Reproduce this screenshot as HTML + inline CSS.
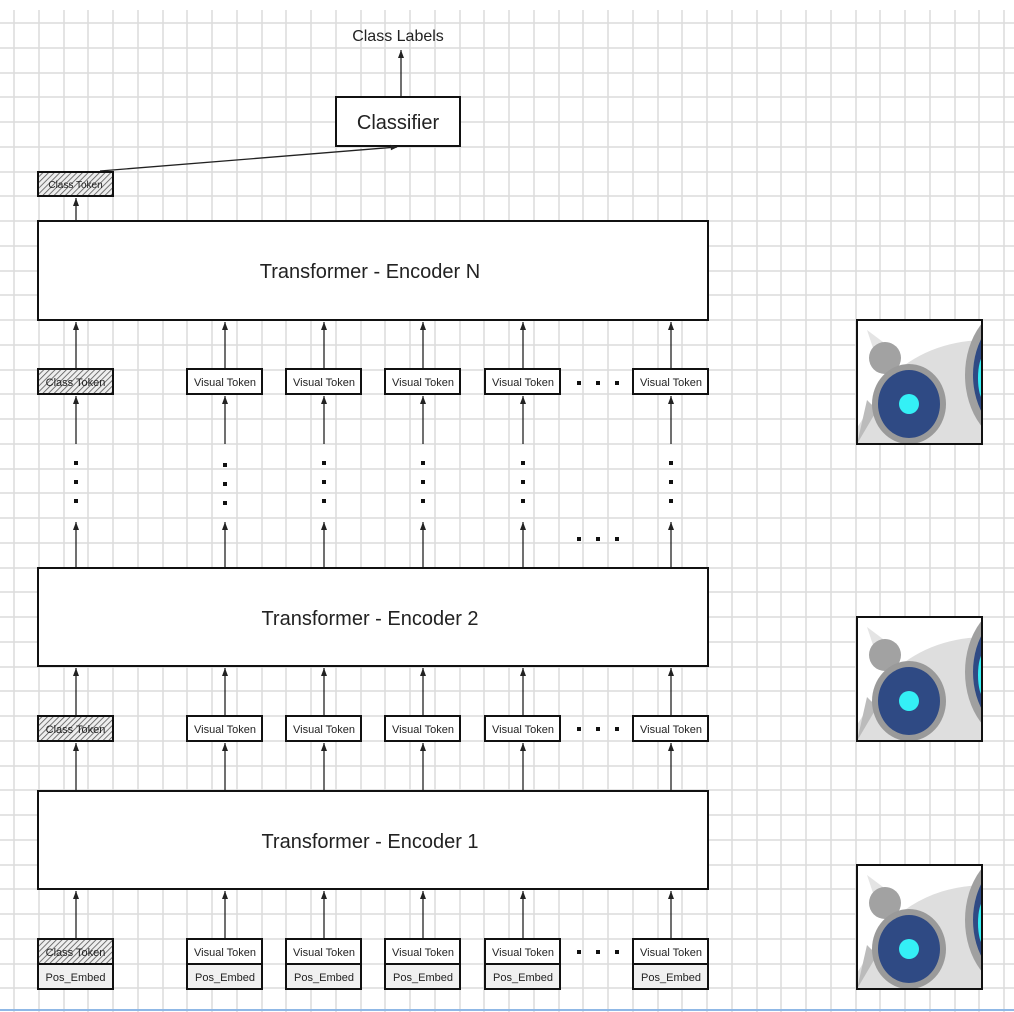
<!DOCTYPE html>
<html><head><meta charset="utf-8"><style>
html,body{margin:0;padding:0;background:#fff}
svg{display:block}
text{font-family:"Liberation Sans","DejaVu Sans",sans-serif;fill:#222}
</style></head><body>
<svg width="1014" height="1012" viewBox="0 0 1014 1012" xmlns="http://www.w3.org/2000/svg">
<defs>
<pattern id="hatch" width="4" height="4" patternUnits="userSpaceOnUse" patternTransform="rotate(45)">
<rect width="4" height="4" fill="#eee"/><line x1="0" y1="0" x2="0" y2="4" stroke="#555" stroke-width="1.6"/>
</pattern>
<marker id="ah" viewBox="0 0 8 8" markerWidth="8" markerHeight="8" refX="8" refY="4" orient="auto" markerUnits="userSpaceOnUse">
<path d="M0 1L8 4L0 7Z" fill="#222"/>
</marker>
<marker id="ar" viewBox="0 0 10 10" markerWidth="9" markerHeight="7" refX="9" refY="5" orient="auto" markerUnits="userSpaceOnUse">
<path d="M0 1L10 5L0 9Z" fill="#222"/>
</marker>
<clipPath id="tc"><rect x="0" y="0" width="125" height="124"/></clipPath>
<g id="robot">
<g clip-path="url(#tc)">
<rect width="125" height="124" fill="#fff"/>
<polygon points="10,10 30,25 20,40" fill="#e4e4e4"/>
<path d="M-10 124 L30 60 Q70 20 130 20 L130 124 Z" fill="#dedede"/>
<circle cx="28" cy="38" r="16" fill="#a2a2a2"/>
<path d="M0 124 L20 90 L10 80 Z" fill="#bbb"/>
<ellipse cx="52" cy="84" rx="37" ry="40" fill="#9a9a9a"/>
<ellipse cx="52" cy="84" rx="31" ry="34" fill="#2f4a84"/>
<circle cx="52" cy="84" r="10" fill="#34f0f6"/>
<ellipse cx="160" cy="55" rx="52" ry="70" fill="#a0a0a0"/>
<ellipse cx="160" cy="55" rx="44" ry="62" fill="#2f4a84"/>
<ellipse cx="127" cy="58" rx="6" ry="22" fill="#34f0f6"/>
</g>
<rect x="0" y="0" width="125" height="124" fill="none" stroke="#111" stroke-width="2"/>
</g>
</defs>
<rect width="1014" height="1012" fill="#fff"/>
<path stroke="#dcdcdc" stroke-width="1.5" fill="none" d="
M14 10V1012M39 10V1012M64 10V1012M88 10V1012M113 10V1012M138 10V1012M163 10V1012M187 10V1012M212 10V1012M237 10V1012M262 10V1012M286 10V1012M311 10V1012M336 10V1012M361 10V1012M385 10V1012M410 10V1012M435 10V1012M460 10V1012M484 10V1012M509 10V1012M534 10V1012M559 10V1012M583 10V1012M608 10V1012M633 10V1012M658 10V1012M682 10V1012M707 10V1012M732 10V1012M757 10V1012M781 10V1012M806 10V1012M831 10V1012M856 10V1012M880 10V1012M905 10V1012M930 10V1012M955 10V1012M979 10V1012M1004 10V1012
M0 23H1014M0 48H1014M0 73H1014M0 97H1014M0 122H1014M0 147H1014M0 172H1014M0 196H1014M0 221H1014M0 246H1014M0 271H1014M0 295H1014M0 320H1014M0 345H1014M0 370H1014M0 394H1014M0 419H1014M0 444H1014M0 469H1014M0 493H1014M0 518H1014M0 543H1014M0 568H1014M0 592H1014M0 617H1014M0 642H1014M0 667H1014M0 691H1014M0 716H1014M0 741H1014M0 766H1014M0 790H1014M0 815H1014M0 840H1014M0 865H1014M0 889H1014M0 914H1014M0 939H1014M0 964H1014M0 988H1014"/>
<line x1="0" y1="1010" x2="1014" y2="1010" stroke="#8fb8e6" stroke-width="2"/>

<text x="398" y="41" font-size="16" text-anchor="middle">Class Labels</text>
<line x1="401" y1="97" x2="401" y2="50" stroke="#222" stroke-width="1.3" marker-end="url(#ah)"/>
<rect x="336" y="97" width="124" height="49" fill="#fff" stroke="#111" stroke-width="2"/>
<text x="398" y="129" font-size="20" text-anchor="middle">Classifier</text>
<line x1="100" y1="171" x2="397" y2="147" stroke="#222" stroke-width="1.3" marker-end="url(#ar)"/>
<rect x="38" y="172" width="75" height="24" fill="url(#hatch)" stroke="#111" stroke-width="2"/>
<text x="75.5" y="188" font-size="10" text-anchor="middle" fill="#333">Class Token</text>
<line x1="76" y1="221" x2="76" y2="198" stroke="#222" stroke-width="1.3" marker-end="url(#ah)"/>

<rect x="38" y="221" width="670" height="99" fill="#fff" stroke="#111" stroke-width="2"/>
<text x="370" y="278" font-size="20" text-anchor="middle">Transformer - Encoder N</text>
<rect x="38" y="568" width="670" height="98" fill="#fff" stroke="#111" stroke-width="2"/>
<text x="370" y="625" font-size="20" text-anchor="middle">Transformer - Encoder 2</text>
<rect x="38" y="791" width="670" height="98" fill="#fff" stroke="#111" stroke-width="2"/>
<text x="370" y="848" font-size="20" text-anchor="middle">Transformer - Encoder 1</text>

<g stroke="#222" stroke-width="1.3" marker-end="url(#ah)">
<line x1="76" y1="369" x2="76" y2="322"/><line x1="225" y1="369" x2="225" y2="322"/><line x1="324" y1="369" x2="324" y2="322"/><line x1="423" y1="369" x2="423" y2="322"/><line x1="523" y1="369" x2="523" y2="322"/><line x1="671" y1="369" x2="671" y2="322"/>
<line x1="76" y1="444" x2="76" y2="396"/><line x1="225" y1="444" x2="225" y2="396"/><line x1="324" y1="444" x2="324" y2="396"/><line x1="423" y1="444" x2="423" y2="396"/><line x1="523" y1="444" x2="523" y2="396"/><line x1="671" y1="444" x2="671" y2="396"/>
<line x1="76" y1="567" x2="76" y2="522"/><line x1="225" y1="567" x2="225" y2="522"/><line x1="324" y1="567" x2="324" y2="522"/><line x1="423" y1="567" x2="423" y2="522"/><line x1="523" y1="567" x2="523" y2="522"/><line x1="671" y1="567" x2="671" y2="522"/>
<line x1="76" y1="716" x2="76" y2="668"/><line x1="225" y1="716" x2="225" y2="668"/><line x1="324" y1="716" x2="324" y2="668"/><line x1="423" y1="716" x2="423" y2="668"/><line x1="523" y1="716" x2="523" y2="668"/><line x1="671" y1="716" x2="671" y2="668"/>
<line x1="76" y1="790" x2="76" y2="743"/><line x1="225" y1="790" x2="225" y2="743"/><line x1="324" y1="790" x2="324" y2="743"/><line x1="423" y1="790" x2="423" y2="743"/><line x1="523" y1="790" x2="523" y2="743"/><line x1="671" y1="790" x2="671" y2="743"/>
<line x1="76" y1="939" x2="76" y2="891"/><line x1="225" y1="939" x2="225" y2="891"/><line x1="324" y1="939" x2="324" y2="891"/><line x1="423" y1="939" x2="423" y2="891"/><line x1="523" y1="939" x2="523" y2="891"/><line x1="671" y1="939" x2="671" y2="891"/>
</g>

<g fill="#111">
<rect x="74" y="461" width="4" height="4"/><rect x="74" y="480" width="4" height="4"/><rect x="74" y="499" width="4" height="4"/>
<rect x="223" y="463" width="4" height="4"/><rect x="223" y="482" width="4" height="4"/><rect x="223" y="501" width="4" height="4"/>
<rect x="322" y="461" width="4" height="4"/><rect x="322" y="480" width="4" height="4"/><rect x="322" y="499" width="4" height="4"/>
<rect x="421" y="461" width="4" height="4"/><rect x="421" y="480" width="4" height="4"/><rect x="421" y="499" width="4" height="4"/>
<rect x="521" y="461" width="4" height="4"/><rect x="521" y="480" width="4" height="4"/><rect x="521" y="499" width="4" height="4"/>
<rect x="669" y="461" width="4" height="4"/><rect x="669" y="480" width="4" height="4"/><rect x="669" y="499" width="4" height="4"/>
<rect x="577" y="537" width="4" height="4"/><rect x="596" y="537" width="4" height="4"/><rect x="615" y="537" width="4" height="4"/>
<rect x="577" y="381" width="4" height="4"/><rect x="596" y="381" width="4" height="4"/><rect x="615" y="381" width="4" height="4"/>
<rect x="577" y="727" width="4" height="4"/><rect x="596" y="727" width="4" height="4"/><rect x="615" y="727" width="4" height="4"/>
<rect x="577" y="950" width="4" height="4"/><rect x="596" y="950" width="4" height="4"/><rect x="615" y="950" width="4" height="4"/>
</g>

<g stroke="#111" stroke-width="2">
<rect x="38" y="369" width="75" height="25" fill="url(#hatch)"/>
<rect x="187" y="369" width="75" height="25" fill="#fff"/><rect x="286" y="369" width="75" height="25" fill="#fff"/><rect x="385" y="369" width="75" height="25" fill="#fff"/><rect x="485" y="369" width="75" height="25" fill="#fff"/><rect x="633" y="369" width="75" height="25" fill="#fff"/>
<rect x="38" y="716" width="75" height="25" fill="url(#hatch)"/>
<rect x="187" y="716" width="75" height="25" fill="#fff"/><rect x="286" y="716" width="75" height="25" fill="#fff"/><rect x="385" y="716" width="75" height="25" fill="#fff"/><rect x="485" y="716" width="75" height="25" fill="#fff"/><rect x="633" y="716" width="75" height="25" fill="#fff"/>
<rect x="38" y="939" width="75" height="25" fill="url(#hatch)"/>
<rect x="187" y="939" width="75" height="25" fill="#fff"/><rect x="286" y="939" width="75" height="25" fill="#fff"/><rect x="385" y="939" width="75" height="25" fill="#fff"/><rect x="485" y="939" width="75" height="25" fill="#fff"/><rect x="633" y="939" width="75" height="25" fill="#fff"/>
<rect x="38" y="964" width="75" height="25" fill="#f0f0f0"/><rect x="187" y="964" width="75" height="25" fill="#f0f0f0"/><rect x="286" y="964" width="75" height="25" fill="#f0f0f0"/><rect x="385" y="964" width="75" height="25" fill="#f0f0f0"/><rect x="485" y="964" width="75" height="25" fill="#f0f0f0"/><rect x="633" y="964" width="75" height="25" fill="#f0f0f0"/>
</g>
<g font-size="11" fill="#333" text-anchor="middle">
<text x="75.5" y="386">Class Token</text><text x="225" y="386">Visual Token</text><text x="324" y="386">Visual Token</text><text x="423" y="386">Visual Token</text><text x="523" y="386">Visual Token</text><text x="671" y="386">Visual Token</text>
<text x="75.5" y="733">Class Token</text><text x="225" y="733">Visual Token</text><text x="324" y="733">Visual Token</text><text x="423" y="733">Visual Token</text><text x="523" y="733">Visual Token</text><text x="671" y="733">Visual Token</text>
<text x="75.5" y="956">Class Token</text><text x="225" y="956">Visual Token</text><text x="324" y="956">Visual Token</text><text x="423" y="956">Visual Token</text><text x="523" y="956">Visual Token</text><text x="671" y="956">Visual Token</text>
<text x="75.5" y="981">Pos_Embed</text><text x="225" y="981">Pos_Embed</text><text x="324" y="981">Pos_Embed</text><text x="423" y="981">Pos_Embed</text><text x="523" y="981">Pos_Embed</text><text x="671" y="981">Pos_Embed</text>
</g>

<use href="#robot" x="857" y="320"/>
<use href="#robot" x="857" y="617"/>
<use href="#robot" x="857" y="865"/>
</svg>
</body></html>
